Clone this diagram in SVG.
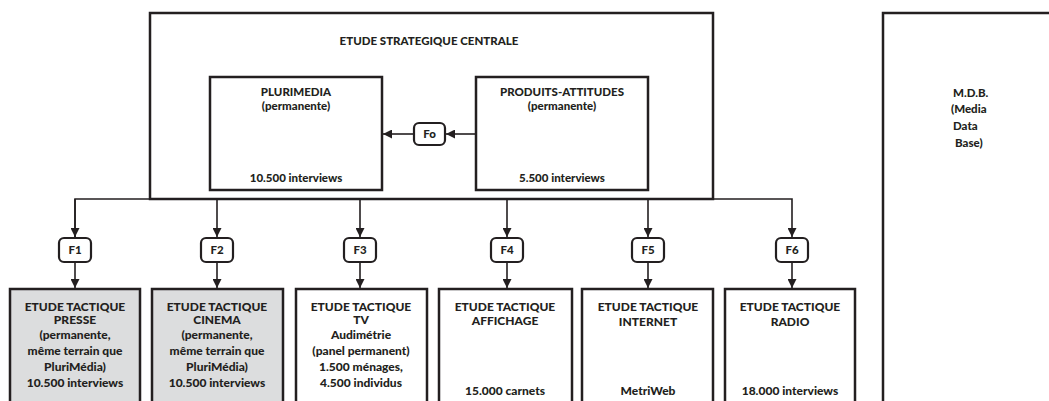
<svg xmlns="http://www.w3.org/2000/svg" width="1049" height="401" viewBox="0 0 1049 401">
<defs>
<style>
.box{fill:#fff;stroke:#231f20;stroke-width:2.5}
.grey{fill:#dcddde}
.lbl{fill:#fff;stroke:#231f20;stroke-width:2.2}
.ln{fill:none;stroke:#231f20;stroke-width:1.6}
text{font-family:Lato,"Liberation Sans",Arial,sans-serif;font-weight:900;font-size:11.5px;fill:#231f20;text-anchor:middle}
.b text{font-size:12px}
.st{text-anchor:start}
</style>
<marker id="ah" viewBox="0 0 10 10" refX="10" refY="5" markerWidth="9" markerHeight="9" markerUnits="userSpaceOnUse" orient="auto">
<path d="M0,0 L10,5 L0,10 z" fill="#231f20"/>
</marker>
</defs>
<rect width="1049" height="401" fill="#fff"/>

<g id="central">
<rect class="box" x="150" y="13" width="563" height="186"/>
<text x="429" y="45">ETUDE STRATEGIQUE CENTRALE</text>
</g>
<g id="plurimedia">
<rect class="box" x="210" y="77" width="172" height="113"/>
<text x="296" y="96">PLURIMEDIA</text>
<text x="296" y="110">(permanente)</text>
<text x="296" y="182">10.500 interviews</text>
</g>
<g id="produits">
<rect class="box" x="476" y="77" width="172" height="113"/>
<text x="562" y="96">PRODUITS-ATTITUDES</text>
<text x="562" y="110">(permanente)</text>
<text x="562" y="182">5.500 interviews</text>
</g>
<g id="mdb">
<rect class="box" x="883" y="13" width="200" height="400"/>
<text class="st" x="953" y="97">M.D.B.</text>
<text class="st" x="951" y="113">(Media</text>
<text class="st" x="953" y="130">Data</text>
<text class="st" x="955" y="147">Base)</text>
</g>

<g id="connectors">
<line class="ln" x1="476" y1="134" x2="446" y2="134" marker-end="url(#ah)"/>
<line class="ln" x1="414" y1="134" x2="383" y2="134" marker-end="url(#ah)"/>
<polyline class="ln" points="75,237 75,199 792,199 792,237" marker-end="url(#ah)"/>
<line class="ln" x1="75" y1="199" x2="75" y2="237" marker-end="url(#ah)"/>
<line class="ln" x1="217" y1="199" x2="217" y2="237" marker-end="url(#ah)"/>
<line class="ln" x1="360" y1="199" x2="360" y2="237" marker-end="url(#ah)"/>
<line class="ln" x1="507" y1="199" x2="507" y2="237" marker-end="url(#ah)"/>
<line class="ln" x1="648" y1="199" x2="648" y2="237" marker-end="url(#ah)"/>
<line class="ln" x1="75" y1="262" x2="75" y2="288" marker-end="url(#ah)"/>
<line class="ln" x1="217" y1="262" x2="217" y2="288" marker-end="url(#ah)"/>
<line class="ln" x1="360" y1="262" x2="360" y2="288" marker-end="url(#ah)"/>
<line class="ln" x1="507" y1="262" x2="507" y2="288" marker-end="url(#ah)"/>
<line class="ln" x1="648" y1="262" x2="648" y2="288" marker-end="url(#ah)"/>
<line class="ln" x1="792" y1="262" x2="792" y2="288" marker-end="url(#ah)"/>
</g>

<g id="fo">
<rect class="lbl" x="414" y="123" width="31" height="22" rx="5"/>
<text x="429.5" y="138">Fo</text>
</g>
<g id="f1"><rect class="lbl" x="59" y="238" width="32" height="24" rx="5"/><text x="75" y="254">F1</text></g>
<g id="f2"><rect class="lbl" x="201" y="238" width="32" height="24" rx="5"/><text x="217" y="254">F2</text></g>
<g id="f3"><rect class="lbl" x="344" y="238" width="32" height="24" rx="5"/><text x="360" y="254">F3</text></g>
<g id="f4"><rect class="lbl" x="491" y="238" width="32" height="24" rx="5"/><text x="507" y="254">F4</text></g>
<g id="f5"><rect class="lbl" x="632" y="238" width="32" height="24" rx="5"/><text x="648" y="254">F5</text></g>
<g id="f6"><rect class="lbl" x="776" y="238" width="32" height="24" rx="5"/><text x="792" y="254">F6</text></g>

<g id="presse" class="b">
<rect class="box grey" x="10" y="289" width="130" height="130"/>
<text x="75" y="311">ETUDE TACTIQUE</text>
<text x="75" y="324">PRESSE</text>
<text x="75" y="339">(permanente,</text>
<text x="75" y="355">même terrain que</text>
<text x="75" y="371">PluriMédia)</text>
<text x="75" y="387">10.500 interviews</text>
</g>
<g id="cinema" class="b">
<rect class="box grey" x="152" y="289" width="131" height="130"/>
<text x="217" y="311">ETUDE TACTIQUE</text>
<text x="217" y="324">CINEMA</text>
<text x="217" y="339">(permanente,</text>
<text x="217" y="355">même terrain que</text>
<text x="217" y="371">PluriMédia)</text>
<text x="217" y="387">10.500 interviews</text>
</g>
<g id="tv" class="b">
<rect class="box" x="296" y="289" width="131" height="130"/>
<text x="361" y="311">ETUDE TACTIQUE</text>
<text x="361" y="324">TV</text>
<text x="361" y="339">Audimétrie</text>
<text x="361" y="355">(panel permanent)</text>
<text x="361" y="371">1.500 ménages,</text>
<text x="361" y="387">4.500 individus</text>
</g>
<g id="affichage" class="b">
<rect class="box" x="439" y="289" width="133" height="130"/>
<text x="505" y="311">ETUDE TACTIQUE</text>
<text x="505" y="325">AFFICHAGE</text>
<text x="505" y="395">15.000 carnets</text>
</g>
<g id="internet" class="b">
<rect class="box" x="582" y="289" width="131" height="130"/>
<text x="648" y="311">ETUDE TACTIQUE</text>
<text x="648" y="326">INTERNET</text>
<text x="648" y="395">MetriWeb</text>
</g>
<g id="radio" class="b">
<rect class="box" x="725" y="289" width="130" height="130"/>
<text x="790" y="311">ETUDE TACTIQUE</text>
<text x="790" y="326">RADIO</text>
<text x="790" y="395">18.000 interviews</text>
</g>
</svg>
